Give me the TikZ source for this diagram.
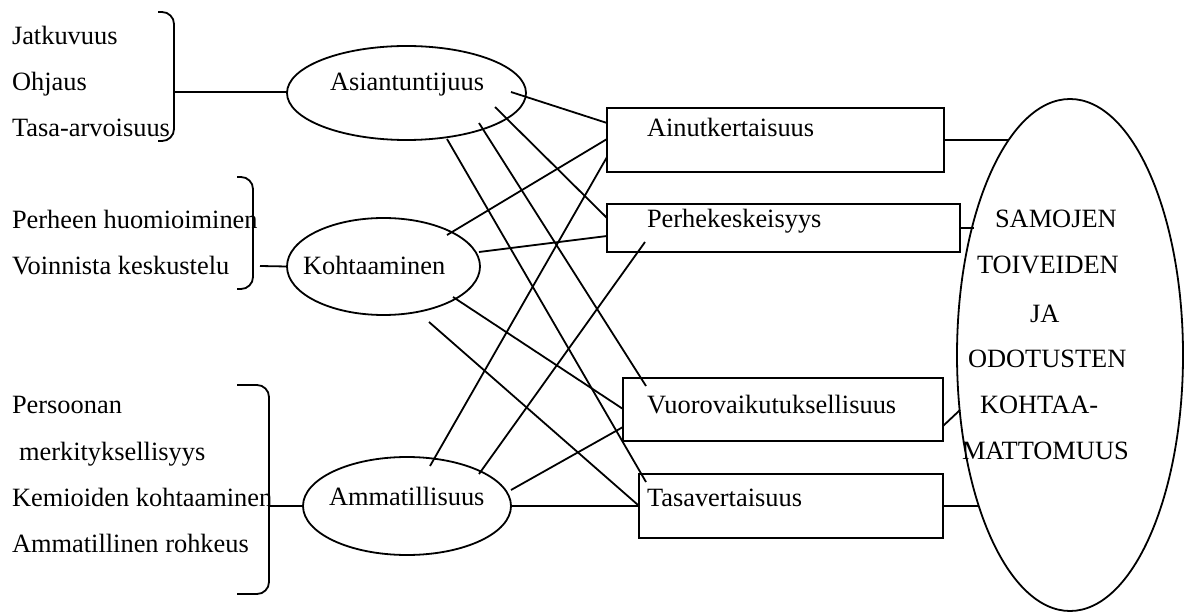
\documentclass[tikz,border=0pt]{standalone}
\usepackage{fontspec}
\setmainfont{Liberation Serif}
\usetikzlibrary{shapes.geometric,calc}
\begin{document}
\begin{tikzpicture}[x=0.5pt,y=-0.5pt,
  every path/.style={line width=0.9pt},
  txt/.style={inner sep=0pt,outer sep=0pt,anchor=base west,font=\fontsize{13.2}{16}\selectfont},
  ell/.style={draw,ellipse,inner sep=0pt,outer sep=0pt},
  box/.style={draw,rectangle,inner sep=0pt,outer sep=0pt},
  brk/.style={rounded corners=6pt},
  con/.style={}]
\useasboundingbox (0,0) rectangle (1187,614);
% left lists
\node[txt] (t1) at (12,45) {Jatkuvuus};
\node[txt] (t2) at (12,91) {Ohjaus};
\node[txt] (t3) at (12,137) {Tasa-arvoisuus};
\node[txt] (t4) at (12,229) {Perheen huomioiminen};
\node[txt] (t5) at (12,275) {Voinnista keskustelu};
\node[txt] (t6) at (12,413) {Persoonan};
\node[txt] (t7) at (19,460) {merkityksellisyys};
\node[txt] (t8) at (12,506) {Kemioiden kohtaaminen};
\node[txt] (t9) at (12,552) {Ammatillinen rohkeus};
% brackets
\draw[brk] (158,12) -- (174,12) -- (174,141) -- (158,141);
\draw[brk] (237,177) -- (253,177) -- (253,289) -- (237,289);
\draw[brk] (237,385) -- (269,385) -- (269,594) -- (237,594);
\coordinate (b1) at (174,92);
\coordinate (b2) at (260,266);
\coordinate (b3) at (269,506);
% ellipses
\node[ell,minimum width=119.5pt,minimum height=47pt] (asi) at (406.5,93) {};
\node[ell,minimum width=96.5pt,minimum height=48.5pt] (koh) at (383.5,266.5) {};
\node[ell,minimum width=104pt,minimum height=49pt] (amm) at (407,506) {};
\node[txt] (asiT) at (330,91) {Asiantuntijuus};
\node[txt] (kohT) at (303,275) {Kohtaaminen};
\node[txt] (ammT) at (329,505) {Ammatillisuus};
% boxes
\node[box,minimum width=168.5pt,minimum height=32pt] (ain) at (775.5,140) {};
\node[box,minimum width=176.5pt,minimum height=24pt] (per) at (783.5,228) {};
\node[box,minimum width=160pt,minimum height=31.5pt] (vuo) at (783,409.5) {};
\node[box,minimum width=152pt,minimum height=32pt] (tas) at (791,506) {};
\node[txt] (ainT) at (647,137) {Ainutkertaisuus};
\node[txt] (perT) at (647,228) {Perhekeskeisyys};
\node[txt] (vuoT) at (647,413) {Vuorovaikutuksellisuus};
\node[txt] (tasT) at (647,506) {Tasavertaisuus};
% big ellipse
\node[ell,minimum width=113pt,minimum height=256pt] (big) at (1070,355) {};
\node[txt] (g1) at (995,228) {SAMOJEN};
\node[txt] (g2) at (977,274) {TOIVEIDEN};
\node[txt] (g3) at (1030,322) {JA};
\node[txt] (g4) at (968,367) {ODOTUSTEN};
\node[txt] (g5) at (980,413) {KOHTAA-};
\node[txt] (g6) at (962,459) {MATTOMUUS};
% bracket connectors
\draw (b1) -- (b1 -| asi.west);
\draw (b2) -- (koh.west);
\draw (b3) -- (amm.west);
% Asiantuntijuus
\draw ([shift={(104.5,-1)}]asi.center) -- ([shift={(-168.5,-17)}]ain.center);
\draw ([shift={(88.5,14)}]asi.center) -- ([shift={(-176.5,-10)}]per.center);
\draw ([shift={(72.5,30)}]asi.center) -- ([shift={(-137,-23.5)}]vuo.center);
\draw ([shift={(40.5,46)}]asi.center) -- ([shift={(-145,-24)}]tas.center);
% Kohtaaminen
\draw ([shift={(63.5,-31.5)}]koh.center) -- ([shift={(-168.5,-1)}]ain.center);
\draw ([shift={(95.5,-14.5)}]koh.center) -- ([shift={(-176.5,8)}]per.center);
\draw ([shift={(69.5,30.5)}]koh.center) -- ([shift={(-160,-0.5)}]vuo.center);
\draw ([shift={(45.5,55.5)}]koh.center) -- ([shift={(-153,-1)}]tas.center);
% Ammatillisuus
\draw ([shift={(23,-40)}]amm.center) -- ([shift={(-168.5,17)}]ain.center);
\draw ([shift={(72,-32)}]amm.center) -- ([shift={(-138.5,14)}]per.center);
\draw ([shift={(104,-16)}]amm.center) -- ([shift={(-160,17.5)}]vuo.center);
\draw (amm.east) -- (tas.west);
% to big ellipse
\draw (ain.east) -- ([shift={(-62,-215)}]big.center);
\draw (per.east) -- ([shift={(-96,-127)}]big.center);
\draw ([shift={(160,16.5)}]vuo.center) -- ([shift={(-110,55)}]big.center);
\draw (tas.east) -- ([shift={(-91,151)}]big.center);
\end{tikzpicture}
\end{document}
